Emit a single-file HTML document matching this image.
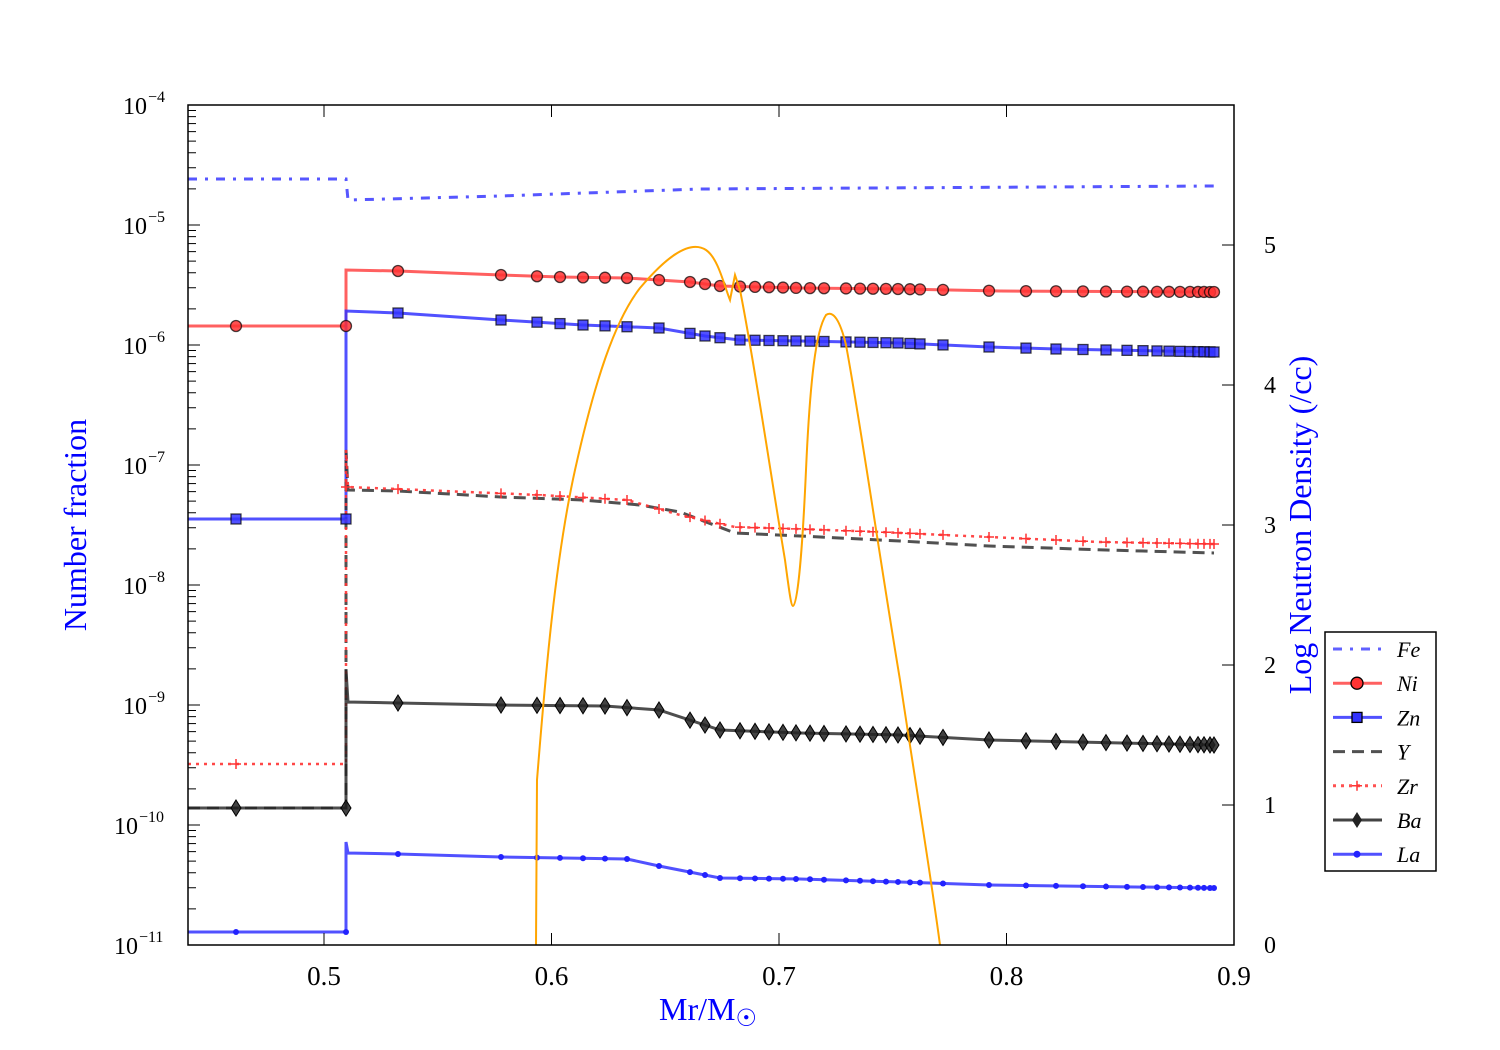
<!DOCTYPE html>
<html><head><meta charset="utf-8"><style>
html,body{margin:0;padding:0;background:#fff;width:1500px;height:1050px;overflow:hidden}
text{font-family:"Liberation Serif",serif}
</style></head><body>
<svg id="s" width="1500" height="1050" xmlns="http://www.w3.org/2000/svg"></svg>
<script>
var s=document.getElementById('s'),h='';
var X=[236,346,398,501,537,560,583,605,627,659,690,705,720,740,755,769,783,796,810,824,846,860,873,886,898,910,920,943,989,1026,1056,1083,1106,1127,1143,1157,1169,1180,1190,1198,1204,1210,1214];
function interp(pts,x){for(var i=0;i<pts.length-1;i++){if(x>=pts[i][0]&&x<=pts[i+1][0]){var t=(x-pts[i][0])/(pts[i+1][0]-pts[i][0]);return pts[i][1]+t*(pts[i+1][1]-pts[i][1]);}}return pts[pts.length-1][1];}
function path(pts){return 'M'+pts.map(function(p){return p[0]+','+p[1]}).join(' L');}
function series(pre,post,col,dash,w,op){var pts=[[188,pre],[346,pre]].concat(post);h+='<path d="'+path(pts)+'" fill="none" stroke="'+col+'" stroke-width="'+w+'" stroke-opacity="'+op+'" '+(dash?'stroke-dasharray="'+dash+'"':'')+'/>';return pts;}
series(179,[[346,179],[348,200],[500,196],[700,189],[1214,186]],'#4444ff','9,8,3,8',3,0.9);
var ni=series(326,[[346,270],[398,271],[501,275],[560,277],[627,278],[690,282],[720,286],[800,288],[900,289],[1000,291],[1214,292]],'#ff4444','',3,0.85);
var zn=series(519,[[346,311],[398,313],[501,320],[583,325],[659,328],[705,336],[740,340],[800,341],[900,343],[989,347],[1056,349],[1214,352]],'#3333ff','',3,0.85);
var y=series(808,[[346,808],[346,450],[348,490],[398,491],[501,497],[583,500],[640,505],[680,512],[735,533],[800,536],[900,541],[989,546],[1106,550],[1214,553]],'#333','12,7',3,0.85);
var zr=series(764,[[346,764],[346,450],[348,487],[540,495],[627,500],[680,515],[735,527],[800,529],[880,532],[989,537],[1100,542],[1214,544]],'#ff3333','3,5',2.5,0.9);
var ba=series(808,[[346,808],[346,670],[348,702],[398,703],[501,705],[605,706],[659,710],[720,730],[800,733],[900,735],[989,740],[1214,745]],'#222','',3,0.8);
var la=series(932,[[346,932],[346,842],[348,853],[398,854],[501,857],[627,859],[659,866],[720,878],[800,879],[900,882],[989,885],[1214,888]],'#3333ff','',3,0.85);
X.forEach(function(x){
 h+='<circle cx="'+x+'" cy="'+(x<=346?326:interp(ni.slice(2),x))+'" r="5.5" fill="#ff3333" fill-opacity="0.85" stroke="#000" stroke-opacity="0.7" stroke-width="1.3"/>';
 var zy=x<=346?519:interp(zn.slice(2),x);
 h+='<rect x="'+(x-5)+'" y="'+(zy-5)+'" width="10" height="10" fill="#3333ff" fill-opacity="0.85" stroke="#000" stroke-opacity="0.7" stroke-width="1.3"/>';
 var ry=x<346?764:interp(zr.slice(4),Math.max(x,348));
 h+='<path d="M'+(x-5)+','+ry+' h10 M'+x+','+(ry-5)+' v10" stroke="#ff3333" stroke-width="1.5"/>';
 var by=x<=346?808:interp(ba.slice(4),x);
 h+='<path d="M'+x+','+(by-8)+' L'+(x+5)+','+by+' L'+x+','+(by+8)+' L'+(x-5)+','+by+'Z" fill="#222" fill-opacity="0.85" stroke="#000"/>';
 var ly=x<=346?932:interp(la.slice(4),x);
 h+='<circle cx="'+x+'" cy="'+ly+'" r="3" fill="#2222ff"/>';
});
h+='<path d="M536,945 L537,780 C545,680 555,560 575,470 C595,380 615,320 640,288 C662,262 688,238 706,250 C718,258 724,285 730,300 L735,275 L740,290 C754,360 770,470 785,560 C789,590 791,606 793,606 C797,606 802,560 806,470 C810,380 816,330 826,315 C833,310 840,320 846,345 C860,420 880,560 900,680 C915,780 930,870 940,945" fill="none" stroke="#ffa500" stroke-width="2"/>';
h+='<rect x="188" y="105" width="1046" height="840" fill="none" stroke="#000" stroke-width="1.5"/>';
var sup=['4','5','6','7','8','9','10','11'];
for(var d=0;d<8;d++){var yy=105+120*d;h+='<line x1="188" y1="'+yy+'" x2="200" y2="'+yy+'" stroke="#000"/>';
 var ex='−'+sup[d];var ew=ex.length*9;
 h+='<text x="'+(165-ew)+'" y="'+(yy+9)+'" font-size="24" text-anchor="end">10</text><text x="'+(166-ew)+'" y="'+(yy-3)+'" font-size="16">'+ex+'</text>';
 if(d<7)for(var k=2;k<10;k++){var my=105+120*(d+1)-120*Math.log10(k);h+='<line x1="188" y1="'+my+'" x2="196" y2="'+my+'" stroke="#000"/>';}}
for(var r=0;r<=5;r++){var ry2=945-140*r;h+='<line x1="1222" y1="'+ry2+'" x2="1234" y2="'+ry2+'" stroke="#000"/><text x="1264" y="'+(ry2+8)+'" font-size="24">'+r+'</text>';}
['0.5','0.6','0.7','0.8','0.9'].forEach(function(t,i){var xx=324+227.5*i;h+='<line x1="'+xx+'" y1="945" x2="'+xx+'" y2="933" stroke="#000"/><line x1="'+xx+'" y1="105" x2="'+xx+'" y2="117" stroke="#000"/><text x="'+xx+'" y="985" font-size="27" text-anchor="middle">'+t+'</text>';});
h+='<text x="708" y="1020" font-size="32" fill="#0000ff" text-anchor="middle">Mr/M<tspan font-size="24" dy="6">☉</tspan></text>';
h+='<text transform="translate(86,525) rotate(-90)" font-size="32" fill="#0000ff" text-anchor="middle">Number fraction</text>';
h+='<text transform="translate(1311,525) rotate(-90)" font-size="32" fill="#0000ff" text-anchor="middle">Log Neutron Density (/cc)</text>';
h+='<rect x="1325" y="632" width="111" height="239" fill="#fff" stroke="#000" stroke-width="1.5"/>';
var L=[['Fe','#4444ff','9,8,3,8'],['Ni','#ff4444',''],['Zn','#3333ff',''],['Y','#333','12,7'],['Zr','#ff3333','3,5'],['Ba','#222',''],['La','#3333ff','']];
L.forEach(function(e,i){var ly=649+34.2*i;h+='<line x1="1333" y1="'+ly+'" x2="1382" y2="'+ly+'" stroke="'+e[1]+'" stroke-width="3" stroke-opacity="0.85" '+(e[2]?'stroke-dasharray="'+e[2]+'"':'')+'/>';
 if(i==1)h+='<circle cx="1357" cy="'+ly+'" r="6" fill="#ff3333" stroke="#000" stroke-width="1.3"/>';
 if(i==2)h+='<rect x="1352" y="'+(ly-5)+'" width="10" height="10" fill="#3333ff" stroke="#000" stroke-width="1.3"/>';
 if(i==4)h+='<path d="M1352,'+ly+' h10 M1357,'+(ly-5)+' v10" stroke="#ff3333" stroke-width="1.5"/>';
 if(i==5)h+='<path d="M1357,'+(ly-8)+' L1362,'+ly+' L1357,'+(ly+8)+' L1352,'+ly+'Z" fill="#222"/>';
 if(i==6)h+='<circle cx="1357" cy="'+ly+'" r="3.5" fill="#2222ff"/>';
 h+='<text x="1397" y="'+(ly+8)+'" font-size="22" font-style="italic">'+e[0]+'</text>';});
s.innerHTML=h;
</script>
</body></html>
